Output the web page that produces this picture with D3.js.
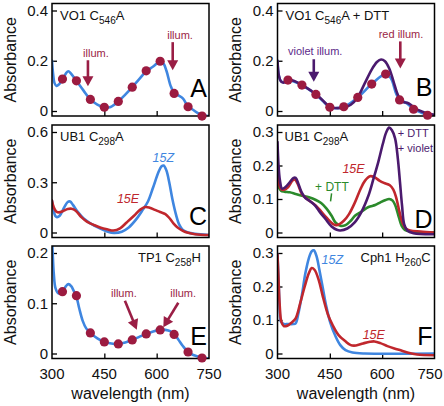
<!DOCTYPE html>
<html><head><meta charset="utf-8">
<script src="https://cdn.jsdelivr.net/npm/d3@7"></script>
<style>body{margin:0;background:#fff}svg{display:block;font-family:"Liberation Sans",Arial,Helvetica,sans-serif}</style>
</head><body><svg id="c" width="444" height="406"></svg>
<script>
// ---------------- data ----------------
const xTicks = [300, 450, 600, 750];
const dotWl = [330, 370, 410, 450, 490, 530, 570, 610, 650, 690, 730];

// Panel A: VO1 C546A
const aBlue = [[300,0.2],[303,0.15],[307,0.112],[313,0.1],[320,0.106],[330,0.125],[340,0.15],[347,0.158],[354,0.15],[362,0.135],[370,0.12],[390,0.082],[410,0.046],[430,0.025],[450,0.014],[468,0.016],[490,0.038],[510,0.065],[530,0.095],[550,0.127],[570,0.158],[590,0.177],[608,0.196],[618,0.192],[628,0.16],[640,0.1],[650,0.072],[662,0.062],[675,0.05],[690,0.018],[705,0.004],[720,-0.01],[735,-0.018],[750,-0.02]];
const aDots = [0.127,0.12,0.046,0.015,0.038,0.095,0.16,0.198,0.07,0.017,-0.02];

// Panel B: VO1 C546A + DTT
const bBlue = [[300,0.2],[304,0.14],[310,0.118],[318,0.115],[330,0.123],[345,0.118],[370,0.103],[410,0.066],[430,0.04],[450,0.015],[490,0.017],[530,0.054],[570,0.107],[610,0.147],[625,0.13],[640,0.07],[650,0.044],[665,0.035],[680,0.02],[690,0.007],[710,-0.005],[730,-0.017],[750,-0.02]];
const bPurple = [[300,0.2],[304,0.14],[310,0.118],[318,0.113],[330,0.12],[342,0.122],[355,0.115],[375,0.1],[395,0.082],[415,0.062],[435,0.035],[450,0.016],[465,0.012],[490,0.014],[510,0.025],[530,0.055],[550,0.11],[570,0.165],[585,0.195],[597,0.205],[608,0.198],[620,0.17],[632,0.12],[642,0.075],[652,0.045],[662,0.035],[672,0.033],[682,0.025],[695,0.01],[710,0.0],[730,-0.01],[750,-0.015]];
const bDots = [0.123,0.103,0.066,0.015,0.017,0.054,0.107,0.147,0.044,0.007,-0.017];

// Panel C: UB1 C298A
const c15Z = [[300,0.19],[304,0.14],[309,0.1],[314,0.092],[322,0.1],[335,0.15],[345,0.182],[352,0.185],[360,0.165],[375,0.12],[390,0.085],[410,0.055],[437,0.025],[460,0.005],[478,-0.002],[500,0.005],[520,0.03],[540,0.075],[560,0.135],[575,0.185],[590,0.27],[605,0.36],[614,0.395],[620,0.4],[628,0.37],[636,0.3],[645,0.2],[655,0.11],[664,0.05],[675,0.015],[690,0.0],[710,-0.008],[750,-0.015]];
const c15E = [[300,0.19],[305,0.15],[312,0.126],[320,0.12],[332,0.128],[345,0.14],[356,0.142],[368,0.13],[385,0.09],[400,0.065],[420,0.045],[440,0.028],[460,0.018],[476,0.012],[495,0.025],[514,0.06],[535,0.1],[552,0.135],[567,0.152],[580,0.148],[595,0.135],[610,0.122],[625,0.11],[637,0.085],[648,0.055],[660,0.03],[675,0.01],[690,-0.002],[710,-0.01],[750,-0.015]];

// Panel D: UB1 C298A
const dViolet = [[300,0.27],[303,0.2],[307,0.155],[313,0.131],[322,0.135],[335,0.15],[346,0.163],[352,0.163],[360,0.145],[370,0.118],[380,0.103],[395,0.092],[408,0.08],[422,0.06],[437,0.041],[455,0.018],[470,0.008],[480,0.006],[500,0.012],[522,0.031],[540,0.06],[561,0.111],[575,0.16],[589,0.211],[602,0.265],[612,0.3],[620,0.313],[628,0.305],[637,0.281],[645,0.22],[651,0.151],[657,0.08],[663,0.025],[672,0.006],[690,-0.002],[750,-0.005]];
const d15E = [[300,0.17],[304,0.145],[310,0.13],[318,0.127],[330,0.135],[343,0.155],[350,0.158],[358,0.145],[370,0.115],[385,0.1],[410,0.08],[440,0.045],[460,0.025],[470,0.022],[490,0.035],[505,0.055],[522,0.09],[538,0.13],[551,0.155],[565,0.168],[578,0.165],[592,0.155],[605,0.148],[622,0.141],[632,0.128],[640,0.105],[650,0.06],[658,0.03],[668,0.012],[680,0.006],[710,0.003],[750,0.0]];
const dDTT = [[300,0.15],[304,0.135],[310,0.125],[320,0.122],[335,0.12],[352,0.115],[370,0.11],[390,0.105],[410,0.097],[425,0.088],[440,0.072],[455,0.05],[466,0.03],[480,0.02],[495,0.022],[510,0.035],[522,0.05],[540,0.062],[561,0.076],[580,0.082],[595,0.09],[610,0.097],[620,0.1],[630,0.095],[638,0.08],[648,0.045],[656,0.02],[665,0.008],[680,0.003],[750,0.0]];

// Panel E: TP1 C258H
const eBlue = [[300,0.23],[302,0.2],[305,0.16],[310,0.13],[318,0.12],[330,0.123],[340,0.134],[347,0.138],[355,0.134],[362,0.125],[370,0.113],[378,0.09],[388,0.065],[398,0.05],[410,0.041],[430,0.03],[450,0.023],[470,0.02],[490,0.019],[510,0.022],[530,0.027],[550,0.033],[570,0.039],[590,0.044],[610,0.047],[625,0.047],[640,0.044],[652,0.037],[662,0.028],[675,0.015],[690,0.003],[705,-0.003],[730,-0.008],[750,-0.01]];
const eDots = [0.123,0.115,0.041,0.023,0.019,0.027,0.039,0.047,0.038,0.003,-0.009];

// Panel F: Cph1 H260C
const f15Z = [[300,0.295],[303,0.22],[306,0.14],[310,0.095],[318,0.088],[330,0.088],[345,0.088],[352,0.09],[360,0.12],[370,0.175],[380,0.24],[390,0.285],[398,0.305],[404,0.308],[412,0.29],[420,0.25],[430,0.195],[440,0.14],[452,0.09],[466,0.052],[480,0.025],[495,0.01],[515,0.003],[550,0.0],[750,0.0]];
const f15E = [[300,0.295],[303,0.22],[306,0.15],[311,0.095],[318,0.082],[328,0.083],[340,0.092],[352,0.105],[365,0.15],[378,0.2],[390,0.24],[398,0.255],[406,0.25],[418,0.22],[430,0.17],[445,0.115],[458,0.085],[475,0.055],[494,0.037],[510,0.025],[525,0.024],[545,0.03],[565,0.035],[578,0.036],[595,0.031],[615,0.022],[635,0.015],[655,0.009],[675,0.002],[700,-0.003],[750,-0.005]];

const yTicksA = [0, 0.2, 0.4];
const yTicksC = [0, 0.3, 0.6];
const yTicksD = [0, 0.1, 0.2, 0.3];
const yTicksE = [0, 0.1, 0.2];
const yTicksF = [0, 0.1, 0.2, 0.3];

// ---------------- styles ----------------
const BLUE = "#3f86e0", RED = "#c0272d", VIOLET = "#4b1a6e", GREEN = "#2b8a2b", DOT = "#9c1b40", ANN = "#9a1e45", VTXT = "#5c2a8a";

// ---------------- layout ----------------
const cols = [52, 277.5];
const W = 157;
const rows = [{top:3.5, bot:116}, {top:125, bot:237.5}, {top:246, bot:358.5}];

const svg = d3.select("#c");

const panels = [
  {col:0,row:0,letter:"A",ymax:0.4,ticks:yTicksA,title:["VO1 C","546","A"],tx:8,
   lines:[{d:aBlue,c:BLUE}], dots:aDots,
   texts:[{t:"illum.",x:426,y:0.214,c:ANN},{t:"illum.",x:667,y:0.288,c:ANN}],
   arrows:[{x1:403,y1:0.202,x2:403,y2:0.099,c:ANN},{x1:646,y1:0.274,x2:646,y2:0.162,c:ANN}], lb:97},
  {col:1,row:0,letter:"B",ymax:0.4,ticks:yTicksA,title:["VO1 C","546","A + DTT"],tx:8,
   lines:[{d:bBlue,c:BLUE},{d:bPurple,c:VIOLET}], dots:bDots,
   texts:[{t:"violet illum.",x:408,y:0.222,c:VTXT},{t:"red illum.",x:654,y:0.292,c:ANN}],
   arrows:[{x1:404,y1:0.206,x2:404,y2:0.116,c:VIOLET},{x1:652,y1:0.277,x2:652,y2:0.169,c:ANN}], lb:96},
  {col:0,row:1,letter:"C",ymax:0.6,ticks:yTicksC,title:["UB1 C","298","A"],tx:8,
   lines:[{d:c15Z,c:BLUE},{d:c15E,c:RED}],
   texts:[{t:"15Z",x:619,y:0.423,c:BLUE,it:1,fs:12.5},{t:"15E",x:518,y:0.177,c:RED,it:1,fs:12.5}], lb:225},
  {col:1,row:1,letter:"D",ymax:0.3,ticks:yTicksD,title:["UB1 C","298","A"],tx:7,
   lines:[{d:dDTT,c:GREEN},{d:d15E,c:RED},{d:dViolet,c:VIOLET}],
   texts:[{t:"15E",x:518,y:0.178,c:RED,it:1,fs:12.5},{t:"+ DTT",x:456,y:0.123,c:GREEN,fs:12},
          {t:"+ DTT",x:645,y:0.284,c:VIOLET,fs:11,a:"start"},{t:"+ violet",x:645,y:0.241,c:VIOLET,fs:11,a:"start"}],
   leaders:[{x1:455,y1:0.117,x2:452,y2:0.093,c:GREEN}], lb:228},
  {col:0,row:2,letter:"E",ymax:0.2,ticks:yTicksE,title:["TP1 C","258","H"],tx:86,
   lines:[{d:eBlue,c:BLUE}], dots:eDots,
   texts:[{t:"illum.",x:506,y:0.113,c:ANN},{t:"illum.",x:676,y:0.113,c:ANN}],
   arrows:[{x1:509,y1:0.105,x2:543,y2:0.0475,c:ANN},{x1:662,y1:0.101,x2:619,y2:0.052,c:ANN}], lb:345},
  {col:1,row:2,letter:"F",ymax:0.3,ticks:yTicksF,title:["Cph1 H","260","C"],tx:83,
   lines:[{d:f15Z,c:BLUE},{d:f15E,c:RED}],
   texts:[{t:"15Z",x:457,y:0.266,c:BLUE,it:1,fs:12.5},{t:"15E",x:576,y:0.043,c:RED,it:1,fs:12.5}], lb:345}
];

panels.forEach((p,i) => {
  const L = cols[p.col], R = L + W;
  const top = rows[p.row].top, bot = rows[p.row].bot;
  const x = d3.scaleLinear().domain([300,750]).range([L,R]);
  const y = d3.scaleLinear().domain([0,p.ymax]).range([bot-5, top+7]);
  const g = svg.append("g");
  const cid = "clip"+i;
  svg.append("clipPath").attr("id",cid).append("rect").attr("x",L).attr("y",top).attr("width",W).attr("height",bot-top);

  // axes (inward ticks)
  const ax = g.append("g").attr("transform",`translate(0,${bot})`)
    .call(d3.axisTop(x).tickValues([450,600]).tickSize(5).tickFormat(""));
  ax.select(".domain").remove();
  ax.selectAll("line").attr("stroke","#000").attr("stroke-width",1.3);
  const ay = g.append("g").attr("transform",`translate(${L},0)`)
    .call(d3.axisRight(y).tickValues(p.ticks).tickSize(5).tickFormat(""));
  ay.select(".domain").remove();
  ay.selectAll("line").attr("stroke","#000").attr("stroke-width",1.3);

  // y tick labels
  g.selectAll(".yl").data(p.ticks).enter().append("text")
    .attr("x",L-4).attr("y",d=>y(d)).attr("dy","0.36em").attr("text-anchor","end")
    .attr("font-size",15).attr("fill","#111").text(d=>d===0?"0":d3.format(".1f")(d));

  // x tick labels only on bottom row
  if (p.row===2) {
    g.selectAll(".xl").data(xTicks).enter().append("text")
      .attr("x",d=>Math.min(x(d), 443-13)).attr("y",378.5).attr("text-anchor","middle")
      .attr("font-size",15).attr("fill","#111").text(d=>d);
    g.append("text").attr("x",(L+R)/2).attr("y",398.5).attr("text-anchor","middle")
      .attr("font-size",16).attr("fill","#111").text("wavelength (nm)");
  }
  // y title
  g.append("text").attr("transform",`translate(${L-42},${(top+bot)/2}) rotate(-90)`)
    .attr("text-anchor","middle").attr("dy","0.36em").attr("font-size",16).attr("fill","#111").text("Absorbance");

  // lines
  const line = d3.line().x(d=>x(d[0])).y(d=>y(d[1])).curve(d3.curveCatmullRom.alpha(0.5));
  const lg = g.append("g").attr("clip-path",`url(#${cid})`);
  p.lines.forEach(l => lg.append("path").datum(l.d).attr("d",line)
    .attr("fill","none").attr("stroke",l.c).attr("stroke-width",2.6).attr("stroke-linejoin","round").attr("stroke-linecap","round"));

  // frame
  g.append("rect").attr("x",L).attr("y",top).attr("width",W).attr("height",bot-top)
    .attr("fill","none").attr("stroke","#000").attr("stroke-width",1.5);

  // dots
  if (p.dots) g.selectAll(".dot").data(p.dots).enter().append("circle")
    .attr("cx",(d,k)=>x(dotWl[k])).attr("cy",d=>y(d)).attr("r",4.6).attr("fill",DOT);

  // arrows
  (p.arrows||[]).forEach(a => {
    const x1=x(a.x1), y1=y(a.y1), x2=x(a.x2), y2=y(a.y2);
    const dx=x2-x1, dy=y2-y1, len=Math.hypot(dx,dy), ux=dx/len, uy=dy/len;
    const hl=10, hw=5.5;
    const bx=x2-ux*hl, by=y2-uy*hl;
    g.append("line").attr("x1",x1).attr("y1",y1).attr("x2",bx+ux*1).attr("y2",by+uy*1)
      .attr("stroke",a.c).attr("stroke-width",2.6);
    g.append("path").attr("d",`M${x2},${y2}L${bx-uy*hw},${by+ux*hw}L${bx+uy*hw},${by-ux*hw}Z`).attr("fill",a.c);
  });
  (p.leaders||[]).forEach(a => g.append("line").attr("x1",x(a.x1)).attr("y1",y(a.y1)).attr("x2",x(a.x2)).attr("y2",y(a.y2))
      .attr("stroke",a.c).attr("stroke-width",1.5));

  // annotation texts
  (p.texts||[]).forEach(t => g.append("text").attr("x",x(t.x)).attr("y",y(t.y))
    .attr("text-anchor",t.a||"middle").attr("font-size",t.fs||11).attr("font-style",t.it?"italic":"normal")
    .attr("fill",t.c).text(t.t));

  // title
  const tt = g.append("text").attr("x",L+p.tx).attr("y",top+16).attr("font-size",13).attr("fill","#111");
  tt.append("tspan").text(p.title[0]);
  tt.append("tspan").attr("font-size",10).attr("dy",4).text(p.title[1]);
  tt.append("tspan").attr("dy",-4).text(p.title[2]);

  // panel letter
  g.append("text").attr("x",R-2).attr("y",p.lb).attr("text-anchor","end").attr("font-size",25).attr("fill","#000").text(p.letter);
});
</script></body></html>
